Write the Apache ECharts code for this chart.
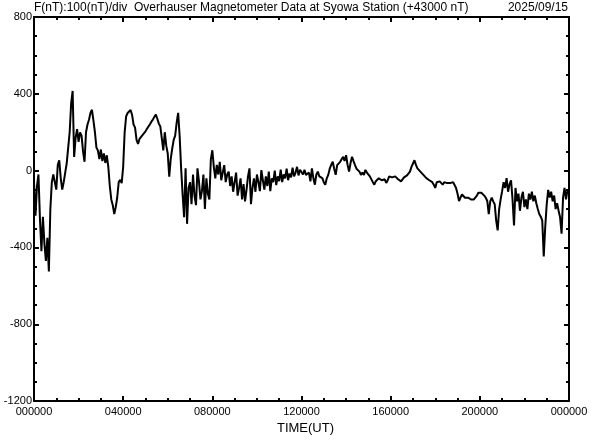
<!DOCTYPE html>
<html>
<head>
<meta charset="utf-8">
<script src="https://cdn.jsdelivr.net/npm/echarts@6/dist/echarts.min.js"></script>
<style>
html,body{margin:0;padding:0;background:#fff;}
#chart{width:592px;height:440px;}
</style>
</head>
<body>
<div id="chart"></div>
<script>
// Data: F deviation (nT, relative to +43000 nT), sampled every 4 minutes from 00:00 UT
const STEP_MIN = 4;
const fValues = [
 -60,-235,-80,-20,-250,-420,-240,-380,-470,-350,
 -525,-200,-60,-20,-60,-99,30,54,-40,-99,
 -60,-10,37,120,200,350,415,71,170,216,
 150,199,182,100,46,200,240,265,300,317,
 260,200,120,105,60,110,50,90,40,80,
 20,-80,-150,-180,-226,-190,-140,-60,-48,-65,
 20,200,283,300,309,316,290,240,224,160,
 139,165,173,185,195,205,215,230,241,255,
 266,280,292,270,245,230,224,105,200,130,
 88,-31,60,114,160,182,250,301,180,12,
 -124,-243,12,-277,-90,-60,-175,-20,-130,-180,
 12,-56,-150,-107,-20,-200,-40,-120,-150,60,
 106,20,-40,30,-20,46,-50,-10,29,-60,
 -20,-5,-80,-30,-110,-60,-10,-130,-90,-40,
 -150,-70,-160,-100,-30,12,-175,-90,-40,-110,
 -20,-60,-107,3,-50,-99,-30,-80,-5,-107,
 -40,-60,0,-75,-30,-55,5,-60,-20,-40,
 10,-50,-15,-35,15,-30,-10,20,-25,5,
 -5,-20,5,-22,-30,-10,-56,12,-40,-73,
 -20,-5,-30,-20,-39,-60,-73,-40,-22,10,
 30,46,10,-22,29,20,46,40,72,50,
 80,30,-5,40,72,50,29,10,15,-5,
 -22,-10,-22,4,-10,-5,-30,-39,-60,-73,
 -55,-47,-40,-39,-50,-56,-45,-64,-50,-30,
 -22,-35,-39,-30,-39,-45,-50,-56,-50,-35,
 -30,-25,-22,-5,20,29,54,30,12,5,
 -5,-10,-22,-25,-39,-35,-50,-56,-60,-73,
 -90,-60,-65,-56,-65,-73,-60,-56,-65,-73,
 -65,-56,-60,-75,-90,-120,-158,-140,-124,-130,
 -141,-135,-141,-141,-150,-158,-150,-141,-130,-115,
 -107,-115,-124,-130,-141,-158,-226,-160,-141,-160,
 -175,-260,-311,-200,-150,-107,-60,-90,-39,-110,
 -70,-50,-150,-286,-90,-160,-120,-209,-140,-110,
 -190,-150,-200,-120,-150,-110,-160,-130,-170,-200,
 -226,-240,-260,-447,-294,-175,-100,-140,-110,-160,
 -130,-200,-170,-209,-243,-328,-141,-90,-150,-100
];
const xTickLabels = ['000000','040000','080000','120000','160000','200000','000000'];
const yMin = -1200, yMax = 800, yInterval = 400;
const titleLeft = 'F(nT):100(nT)/div  Overhauser Magnetometer Data at Syowa Station (+43000 nT)';
const titleRight = '2025/09/15';
const xName = 'TIME(UT)';

const seriesData = fValues.map((v, i) => [i * STEP_MIN / 60, v]);

const FONT = 'Liberation Sans, Arial, sans-serif';
const axisLine = { show: true, onZero: false, lineStyle: { color: '#000', width: 2 } };
const tick = { show: true, inside: true, length: 5, lineStyle: { color: '#000', width: 2 } };
const minor = { show: true, splitNumber: 4, length: 3, lineStyle: { color: '#000', width: 2 } };

const chart = echarts.init(document.getElementById('chart'), null, { renderer: 'canvas' });
chart.setOption({
  animation: false,
  backgroundColor: '#fff',
  title: [
    { text: titleLeft, left: 34, top: 2, padding: 0, textStyle: { fontFamily: FONT, fontSize: 12, fontWeight: 'normal', color: '#000' } },
    { text: titleRight, right: 24, top: 2, padding: 0, textStyle: { fontFamily: FONT, fontSize: 12, fontWeight: 'normal', color: '#000' } }
  ],
  grid: { left: 34, right: 23, top: 17, bottom: 31, containLabel: false },
  xAxis: [
    {
      type: 'value', min: 0, max: 24, interval: 4, position: 'bottom',
      axisLine, axisTick: tick, minorTick: minor, splitLine: { show: false },
      axisLabel: { show: true, margin: 5, fontFamily: FONT, fontSize: 11, color: '#000',
        formatter: (v) => xTickLabels[Math.round(v / 4)] },
      name: xName, nameLocation: 'middle', nameGap: 17,
      nameTextStyle: { fontFamily: FONT, fontSize: 13, color: '#000', padding: [0, 0, 0, 8] }
    },
    {
      type: 'value', min: 0, max: 24, interval: 4, position: 'top',
      axisLine, axisTick: tick, minorTick: minor, splitLine: { show: false },
      axisLabel: { show: false }
    }
  ],
  yAxis: [
    {
      type: 'value', min: yMin, max: yMax, interval: yInterval, position: 'left',
      axisLine, axisTick: tick, minorTick: minor, splitLine: { show: false },
      axisLabel: { show: true, margin: 2, fontFamily: FONT, fontSize: 11, color: '#000',
        formatter: (v) => String(v) }
    },
    {
      type: 'value', min: yMin, max: yMax, interval: yInterval, position: 'right',
      axisLine, axisTick: tick, minorTick: minor, splitLine: { show: false },
      axisLabel: { show: false }
    }
  ],
  series: [{
    type: 'line', data: seriesData, xAxisIndex: 0, yAxisIndex: 0,
    showSymbol: false, symbol: 'none',
    lineStyle: { color: '#000', width: 2 },
    clip: true
  }]
});
</script>
</body>
</html>
